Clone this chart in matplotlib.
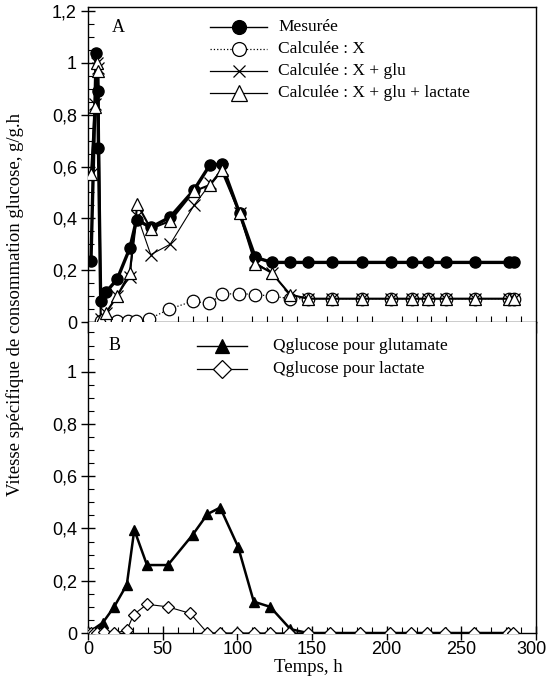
import matplotlib
matplotlib.use("Agg")
import matplotlib.pyplot as plt
from matplotlib.ticker import MultipleLocator, FuncFormatter
from matplotlib.lines import Line2D

# ---- Panel A : vitesse spécifique de consommation du glucose ----
t_mes = [2, 5.5, 6.5, 7, 8.5, 12, 19.5, 28, 32.5, 42, 55, 71, 81.5, 89.5,
         101.5, 112, 123, 135.5, 147.5, 163.5, 183.5, 203, 217, 228, 240,
         259, 282, 285]
mesuree = [0.235, 1.04, 0.89, 0.67, 0.08, 0.115, 0.165, 0.285, 0.395, 0.365,
           0.405, 0.51, 0.605, 0.61, 0.42, 0.25, 0.23, 0.23, 0.23, 0.23, 0.23,
           0.23, 0.23, 0.23, 0.23, 0.23, 0.23, 0.23]

t_x = [8.5, 12, 19.5, 27, 32, 41, 54.5, 70, 81, 90, 101, 112, 123, 135.5,
       147.5, 163.5, 183.5, 203, 217, 228, 240, 259, 282, 285]
calc_x = [0.005, 0.005, 0.005, 0.005, 0.005, 0.012, 0.05, 0.08, 0.072, 0.107,
          0.11, 0.106, 0.10, 0.09, 0.09, 0.09, 0.09, 0.09, 0.09, 0.09, 0.09,
          0.09, 0.09, 0.09]

t_calc = [2, 4.5, 6, 7, 8.5, 12, 19.5, 28, 33, 42, 55, 71, 82, 89.5, 101.5,
          112, 123, 135.5, 147.5, 163.5, 183.5, 203, 217, 228, 240, 259, 282,
          285]
calc_x_glu = [0.57, 0.84, 1.0, 0.98, 0.01, 0.035, 0.10, 0.175, 0.41, 0.26,
              0.30, 0.45, 0.535, 0.59, 0.42, 0.23, 0.19, 0.105, 0.09, 0.09,
              0.09, 0.09, 0.09, 0.09, 0.09, 0.09, 0.09, 0.09]
calc_x_glu_lac = [0.57, 0.83, 1.0, 0.97, 0.01, 0.035, 0.10, 0.19, 0.455,
                  0.36, 0.39, 0.505, 0.53, 0.585, 0.42, 0.225, 0.19, 0.105,
                  0.09, 0.09, 0.09, 0.09, 0.09, 0.09, 0.09, 0.09, 0.09, 0.09]

# ---- Panel B : part du glucose vers glutamate et lactate ----
t_glut = [0, 10, 17.5, 26, 31, 39.5, 53.5, 70, 80, 88.5, 100.5, 111, 122,
          135.5, 147, 162, 182, 202, 216, 227, 239, 258.5, 281.5, 284.5]
q_glut = [0, 0.04, 0.10, 0.185, 0.395, 0.26, 0.26, 0.375, 0.455, 0.48, 0.33,
          0.12, 0.10, 0.015, 0, 0, 0, 0, 0, 0, 0, 0, 0, 0]

t_lac = [0, 2, 4, 6, 10.5, 17.5, 26, 30.5, 39.5, 53.5, 68.5, 80, 88.5, 100,
         111, 122, 134.5, 147, 162, 182, 202, 216, 227, 239, 258.5, 281.5,
         284.5]
q_lac = [0, 0, 0, 0, 0.005, 0, 0.01, 0.07, 0.11, 0.10, 0.075, 0, 0, 0, 0, 0,
         0, 0, 0, 0, 0, 0, 0, 0, 0, 0, 0]

labels_a = ["Mesurée", "Calculée : X", "Calculée : X + glu",
            "Calculée : X + glu + lactate"]
labels_b = ["Qglucose pour glutamate", "Qglucose pour lactate"]

SERIF = ["Liberation Serif", "DejaVu Serif"]
SANS = ["Liberation Sans", "DejaVu Sans"]

fig = plt.figure(figsize=(5.49, 6.84), dpi=100)
W, H = 549, 684
left, right = 88, 536
axA = fig.add_axes([left / W, 1 - 322 / H, (right - left) / W, (322 - 7) / H])
axB = fig.add_axes([left / W, 1 - 633 / H, (right - left) / W, (633 - 322) / H])


def comma(v, pos):
    s = f"{v:.1f}".rstrip("0").rstrip(".")
    return s.replace(".", ",")


def hours(v, pos):
    # the 300 label is placed separately so it stays inside the canvas
    return "" if v >= 300 else f"{v:.0f}"


for ax, ytop in ((axA, 1.216), (axB, 1.19)):
    ax.set_xlim(0, 300)
    ax.set_ylim(0, ytop)
    ax.xaxis.set_major_locator(MultipleLocator(50))
    ax.xaxis.set_minor_locator(MultipleLocator(10))
    ax.yaxis.set_major_locator(MultipleLocator(0.2))
    ax.yaxis.set_minor_locator(MultipleLocator(0.05))
    ax.yaxis.set_major_formatter(FuncFormatter(comma))
    ax.tick_params(axis="y", which="major", direction="inout", length=10,
                   width=1, labelsize=13, pad=3)
    ax.tick_params(axis="y", which="minor", direction="in", length=4, width=0.8)
    ax.tick_params(axis="x", which="minor", direction="in", length=4, width=0.8)
    for sp in ax.spines.values():
        sp.set_linewidth(1.0)

axA.tick_params(axis="x", which="major", direction="out", length=8, width=1,
                labelbottom=False)
axB.tick_params(axis="x", which="major", direction="inout", length=10, width=1,
                labelsize=13, pad=1)
axB.xaxis.set_major_formatter(FuncFormatter(hours))
axB.set_yticks([0, 0.2, 0.4, 0.6, 0.8, 1.0])
axB.spines["top"].set_visible(False)
for ax in (axA, axB):
    for lab in ax.get_xticklabels() + ax.get_yticklabels():
        lab.set_fontfamily(SANS)
fig.text(547 / W, 1 - 650 / H, "300", fontsize=13, family=SANS,
         ha="right", va="center")

# Panel A curves
axA.plot(t_mes, mesuree, "-", color="black", lw=2.4, marker="o", ms=8,
         mfc="black", mec="black", zorder=3)
axA.plot(t_x, calc_x, ":", color="black", lw=0.9, marker="o", ms=9,
         mfc="white", mec="black", mew=0.9, zorder=4)
axA.plot(t_calc, calc_x_glu, "-", color="black", lw=0.8, marker="x", ms=9,
         mec="black", mew=0.9, zorder=5)
axA.plot(t_calc, calc_x_glu_lac, "-", color="black", lw=1.5, marker="^",
         ms=9, mfc="white", mec="black", mew=0.9, zorder=6)

# Panel B curves
axB.plot(t_glut, q_glut, "-", color="black", lw=1.8, marker="^", ms=7,
         mfc="black", mec="black", zorder=3)
axB.plot(t_lac, q_lac, "-", color="black", lw=0.8, marker="D", ms=6,
         mfc="white", mec="black", mew=0.9, zorder=4)

axA.text((118 - left) / (right - left), (322 - 27) / 315, "A",
         transform=axA.transAxes, fontsize=13, family=SERIF,
         va="center", ha="center")
axB.text((115 - left) / (right - left), (633 - 345) / 311, "B",
         transform=axB.transAxes, fontsize=13, family=SERIF,
         va="center", ha="center")


# Legends drawn by hand so the handles sit where they belong
def legend_rows(fig, rows, x0, x1, xtext, y0, dy):
    for i, (style, label) in enumerate(rows):
        yp = 1 - (y0 + i * dy) / H
        xm = (x0 + x1) / 2
        fig.add_artist(Line2D([x0 / W, x1 / W], [yp, yp],
                              transform=fig.transFigure, color="black",
                              lw=style.get("lw", 1), ls=style.get("ls", "-")))
        fig.add_artist(Line2D([xm / W], [yp], transform=fig.transFigure,
                              marker=style["marker"], ms=style["ms"],
                              mfc=style["mfc"], mec="black",
                              mew=style.get("mew", 0.9), ls="none"))
        fig.text(xtext / W, yp, label, fontsize=12.5, family=SERIF,
                 va="center", ha="left")


rows_a = [
    (dict(lw=1.0, marker="o", ms=10, mfc="black"), labels_a[0]),
    (dict(lw=0.9, ls=":", marker="o", ms=10, mfc="white"), labels_a[1]),
    (dict(lw=0.9, marker="x", ms=9, mfc="black"), labels_a[2]),
    (dict(lw=0.9, marker="^", ms=11, mfc="white"), labels_a[3]),
]
legend_rows(fig, rows_a, 210, 267, 278, 27, 22)

rows_b = [
    (dict(lw=1.0, marker="^", ms=10, mfc="black"), labels_b[0]),
    (dict(lw=0.9, marker="D", ms=9, mfc="white"), labels_b[1]),
]
legend_rows(fig, rows_b, 197, 247, 273, 346, 23)

fig.text(15 / W, 1 - 305 / H,
         "Vitesse spécifique de consommation glucose, g/g.h",
         rotation=90, fontsize=13.5, family=SERIF, va="center", ha="center")
fig.text(308 / W, 1 - 668 / H, "Temps, h", fontsize=13.5, family=SERIF,
         va="center", ha="center")

fig.savefig("out.png", dpi=100)
